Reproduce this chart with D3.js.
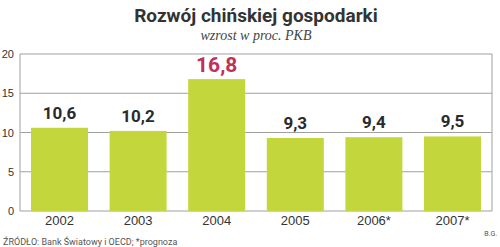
<!DOCTYPE html>
<html>
<head>
<meta charset="utf-8">
<script src="https://cdn.jsdelivr.net/npm/d3@7"></script>
<style>
  body { margin: 0; background: #fff; }
  svg { display: block; font-family: Roboto, "Open Sans", sans-serif; }
</style>
</head>
<body>
<div class="graph"></div>
<script>
const w = 500;
const h = 247;
const margin = {top: 54, right: 8, bottom: 36, left: 20};

const years = ["2002", "2003", "2004", "2005", "2006*", "2007*"];
const growth = [10.6, 10.2, 16.8, 9.3, 9.4, 9.5];
const yTicks = [0, 5, 10, 15, 20];
const highlight = "2004";

const canvas = d3.select('.graph')
  .append("svg")
  .attr("width", w)
  .attr("height", h);

const xScale = d3.scaleBand()
  .domain(years)
  .range([margin.left, w - margin.right])
  .paddingInner(0.275)
  .paddingOuter(0.14);

const yScale = d3.scaleLinear()
  .domain([0, 20])
  .range([h - margin.bottom, margin.top]);

// title
canvas.append("text")
  .attr("x", 256)
  .attr("y", 22)
  .attr("text-anchor", "middle")
  .style("font-size", "19px")
  .style("font-weight", "bold")
  .style("fill", "#333")
  .text("Rozwój chińskiej gospodarki");

canvas.append("text")
  .attr("x", 256)
  .attr("y", 40)
  .attr("text-anchor", "middle")
  .style("font-family", "'Liberation Serif', serif")
  .style("font-style", "italic")
  .style("font-size", "14px")
  .style("fill", "#444")
  .text("wzrost w proc. PKB");

// grid
canvas.append("g")
  .selectAll("line")
  .data(yTicks)
  .enter().append("line")
  .attr("x1", margin.left)
  .attr("x2", w - margin.right)
  .attr("y1", d => yScale(d))
  .attr("y2", d => yScale(d))
  .attr("stroke", "#a0a0a0")
  .attr("stroke-width", 1);

canvas.append("line")
  .attr("x1", w - margin.right)
  .attr("x2", w - margin.right)
  .attr("y1", yScale(20))
  .attr("y2", yScale(0))
  .attr("stroke", "#a0a0a0");

canvas.append("line")
  .attr("x1", margin.left)
  .attr("x2", margin.left)
  .attr("y1", yScale(20))
  .attr("y2", yScale(0))
  .attr("stroke", "#a0a0a0");

const yAxis = d3.axisLeft(yScale).tickValues(yTicks).tickSize(0).tickPadding(6);
canvas.append("g")
  .attr("transform", `translate(${margin.left},0)`)
  .call(yAxis)
  .call(g => g.select(".domain").remove())
  .selectAll("text")
  .style("font-size", "11px")
  .style("fill", "#333");

const data = years.map((y, i) => ({year: y, value: growth[i]}));

canvas.selectAll(".bar")
  .data(data)
  .enter().append("rect")
  .attr("class", "bar")
  .attr("x", d => xScale(d.year))
  .attr("width", xScale.bandwidth())
  .attr("y", d => yScale(d.value))
  .attr("height", d => yScale(0) - yScale(d.value))
  .attr("fill", "#c3d63b");

canvas.selectAll(".val")
  .data(data)
  .enter().append("text")
  .attr("class", "val")
  .attr("x", d => xScale(d.year) + xScale.bandwidth() / 2)
  .attr("y", d => yScale(d.value) - (d.year == highlight ? 7 : 9))
  .attr("text-anchor", "middle")
  .style("font-weight", "bold")
  .style("font-size", d => d.year == highlight ? "21px" : "17px")
  .style("fill", d => d.year == highlight ? "#c0305a" : "#2b2b2b")
  .text(d => String(d.value).replace(".", ","));

const xAxis = d3.axisBottom(xScale).tickSize(0).tickPadding(5);
canvas.append("g")
  .attr("transform", `translate(0,${yScale(0)})`)
  .call(xAxis)
  .call(g => g.select(".domain").remove())
  .selectAll("text")
  .style("font-size", "13px")
  .style("fill", "#333");

canvas.append("text")
  .attr("x", 3)
  .attr("y", 245)
  .style("font-size", "9px")
  .style("fill", "#555")
  .text("ŹRÓDŁO: Bank Światowy i OECD; *prognoza");

canvas.append("text")
  .attr("x", 497)
  .attr("y", 236)
  .attr("text-anchor", "end")
  .style("font-size", "7px")
  .style("fill", "#555")
  .text("B.G.");
</script>
</body>
</html>
